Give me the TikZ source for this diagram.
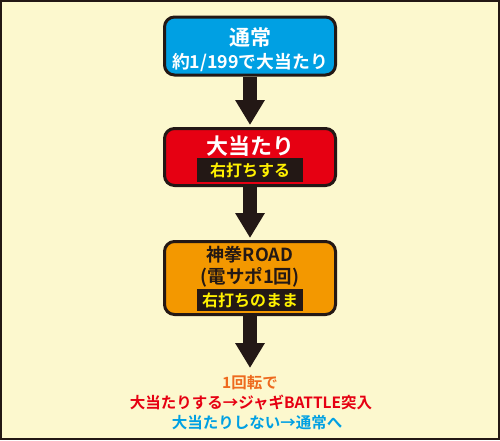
\documentclass[tikz,border=0pt]{standalone}
\usepackage{fontspec}
\usetikzlibrary{arrows.meta}
\newfontfamily\jpfont{Noto Sans CJK JP Bold}
\newcommand{\fs}[1]{\fontsize{#1}{#1}\selectfont}
\definecolor{sfondo}{HTML}{FCF8CE}
\definecolor{bordo}{HTML}{231815}
\definecolor{blu}{HTML}{00A0E3}
\definecolor{rosso}{HTML}{E60012}
\definecolor{arancio}{HTML}{F39800}
\definecolor{giallo}{HTML}{FFF100}
\definecolor{arancioscuro}{HTML}{EE6A1E}
\begin{document}
\begin{tikzpicture}[x=1pt, y=1pt,
    box/.style={draw=bordo, line width=3pt, rounded corners=10pt, minimum width=171pt, inner sep=0pt},
    barra/.style={fill=bordo, text=giallo, inner sep=0pt, minimum width=106pt},
    freccia/.style={draw=bordo, line width=14pt, -{Triangle[width=28pt,length=25pt]}, shorten >=2pt},
    testo/.style={font=\jpfont\fs{#1}, inner sep=0pt}]
        \useasboundingbox (0,0) rectangle (500,-440);
        % Sfondo
        \fill[sfondo] (0,0) rectangle (500,-440);
        \draw[bordo, line width=2pt] (1,-1) rectangle (499,-439);

        % Nodi
        \node[box, fill=blu, minimum height=58pt] (tsujo) at (250,-46) {};
        \node[testo=21, text=white] (tsujoT) at (250,-38) {通常};
        \node[testo=17.8, text=white] (prob) at (250,-63) {約1/199で大当たり};

        \node[box, fill=rosso, minimum height=57pt] (ooatari) at (250,-157) {};
        \node[testo=22, text=white] (ooatariT) at (250,-146) {大当たり};
        \node[barra, minimum height=24pt, testo=16] (migi1) at (250,-170) {右打ちする};

        \node[box, fill=arancio, minimum height=73pt] (road) at (250,-278) {};
        \node[testo=18, text=bordo] (roadT) at (250,-255) {神拳ROAD};
        \node[testo=18.5, text=bordo] (densapo) at (250,-277) {(電サポ1回)};
        \node[barra, minimum height=22pt, testo=16] (migi2) at (250,-300) {右打ちのまま};

        \coordinate (fine) at (250,-370);

        \node[testo=15.5, text=arancioscuro] (kaiten) at (250,-383) {1回転で};
        \node[testo=15.5, text=rosso] (battle) at (251,-403) {大当たりする→ジャギBATTLE突入};
        \node[testo=15.5, text=blu] (ritorno) at (257,-423) {大当たりしない→通常へ};

        % Frecce
        \draw[freccia] (tsujo.south) -- (ooatari.north);
        \draw[freccia] (ooatari.south) -- (road.north);
        \draw[freccia] (road.south) -- (fine);

    \end{tikzpicture}
\end{document}
